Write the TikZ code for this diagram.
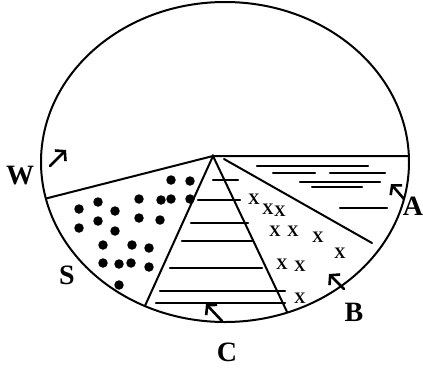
\documentclass[tikz,border=0pt]{standalone}
\usepackage{fontspec}
\setmainfont{Liberation Serif}
\usetikzlibrary{arrows.meta}

\tikzset{
  outline/.style={line width=2pt},
  stratum/.style={line width=2.1pt},
  flowarrow/.style={line width=2.6pt,-{Straight Barb[length=6.5pt,width=15pt]}},
  seeddot/.style={circle,fill=black,inner sep=0pt,minimum size=9.5pt},
  crossmark/.style={font=\fontsize{16}{16}\selectfont\bfseries,inner sep=0pt},
  region/.style={font=\fontsize{28}{28}\selectfont\bfseries,inner sep=0pt}
}

\begin{document}
\begin{tikzpicture}[x=1pt,y=-1pt,line cap=round]
  \useasboundingbox (0,0) rectangle (423,376);
  \coordinate (ctr) at (225,162);
  \coordinate (apex) at (213,156);
  \coordinate (aRim) at (412,156);
  \coordinate (wRim) at (44,199);
  \coordinate (cLeft) at (144,308);
  \coordinate (cRight) at (289,316);
  \coordinate (bBase) at (224,159);
  \coordinate (bTip) at (372,243);

  % field boundaries
  \begin{scope}
    \clip (ctr) ellipse [x radius=184, y radius=160];
    \draw[outline] (wRim) -- (apex) -- (aRim);
    \draw[outline] (cLeft) -- (apex) -- (cRight);
  \end{scope}
  \draw[outline] (bBase) -- (bTip);
  \draw[outline] (ctr) ellipse [x radius=184, y radius=160];

  % C: horizontal strata
  \foreach \y/\xa/\xb in {180/213/238, 200/198/240, 223/191/248, 241/182/253,
                          268/170/262, 291/160/285, 303/156/285}
    \draw[stratum] (\xa,\y) -- (\xb,\y);

  % A: water lines
  \foreach \y/\xa/\xb in {166/257/368, 173/273/315, 173/330/385, 182/300/380,
                          187/312/362, 208/340/387}
    \draw[stratum] (\xa,\y) -- (\xb,\y);

  % S: dots
  \foreach \x/\y in {171/180, 190/181, 139/199, 161/200, 171/199, 190/199,
                     79/209, 98/202, 115/211, 139/218, 160/220, 79/228,
                     98/221, 115/231, 103/245, 132/245, 149/248, 103/263,
                     119/264, 131/263, 149/267, 119/285}
    \node[seeddot] at (\x,\y) {};

  % B: crosses
  \foreach \x/\y in {254/199, 268/209, 280/211, 275/231, 293/231, 318/237,
                     340/253, 282/264, 300/266, 300/298}
    \node[crossmark] at (\x,\y) {X};

  % direction arrows
  \coordinate (wTail) at (50,166);  \coordinate (wHead) at (66,150);
  \coordinate (aTail) at (404,199); \coordinate (aHead) at (391,184);
  \coordinate (bTail) at (344,289); \coordinate (bHead) at (329,274);
  \coordinate (cTail) at (222,321); \coordinate (cHead) at (206,304);
  \draw[flowarrow] (wTail) -- (wHead);
  \draw[flowarrow] (aTail) -- (aHead);
  \draw[flowarrow] (bTail) -- (bHead);
  \draw[flowarrow] (cTail) -- (cHead);

  % labels
  \node[region] (w) at (20,176) {W};
  \node[region] (a) at (413,206) {A};
  \node[region] (b) at (354,312) {B};
  \node[region] (s) at (67,275) {S};
  \node[region] (c) at (227,352) {C};
\end{tikzpicture}
\end{document}
